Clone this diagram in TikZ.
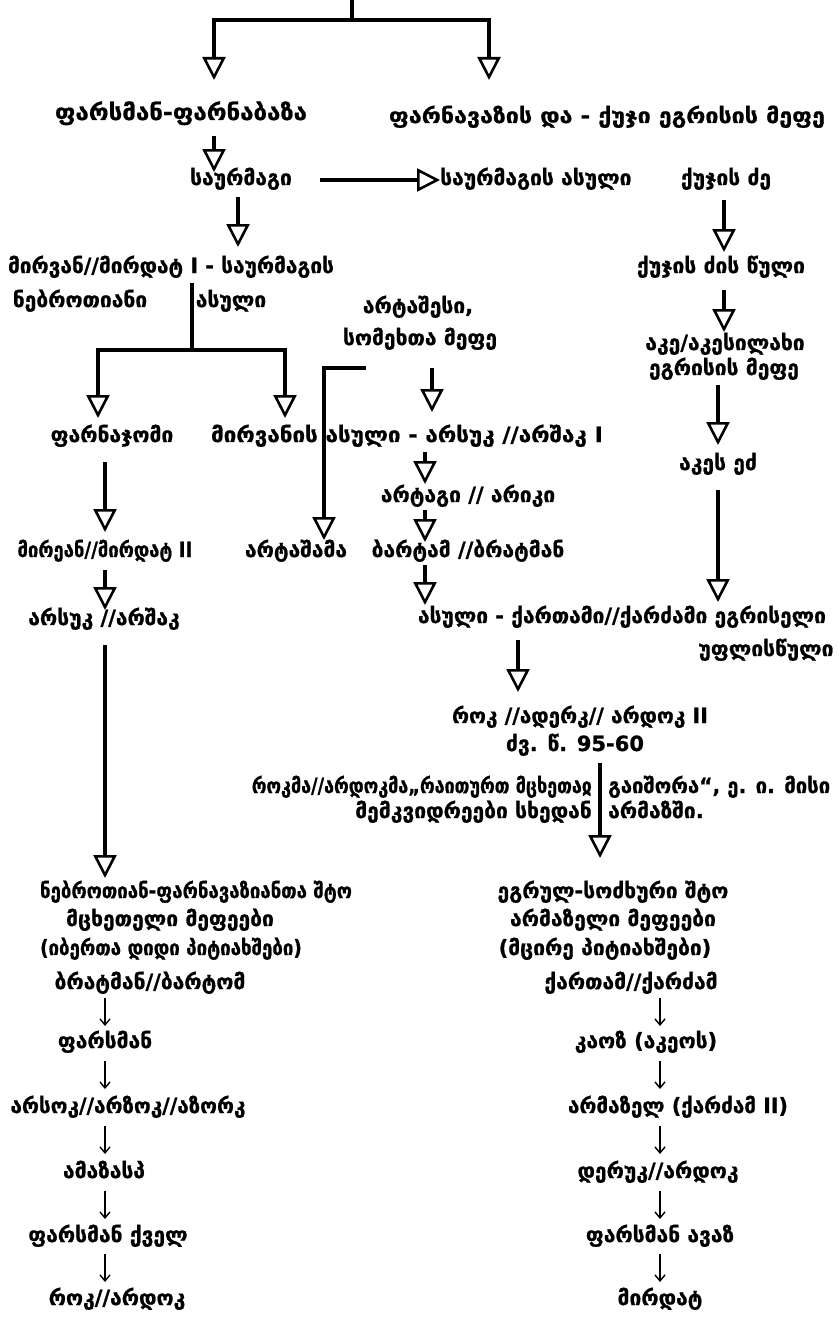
\documentclass[tikz,border=0pt]{standalone}
\usepackage{fontspec}
\usepackage{graphicx}
\setmainfont{DejaVu Sans}[BoldFeatures={FakeBold=0.8}]
\usetikzlibrary{arrows.meta}
\newcommand\fw[2]{\resizebox{#1pt}{\height}{#2}}
\tikzset{
  lbl/.style={font=\bfseries\fontsize{21}{23}\selectfont, inner sep=0pt, text height=15pt, text depth=5pt},
  big/.style={font=\bfseries\fontsize{22.5}{25}\selectfont},
  ln/.style={line width=3.1pt, line join=miter},
  arr/.style={line width=3.1pt, line join=miter, -{Triangle[open,length=23pt,width=23pt,line width=2.6pt]}},
  tarr/.style={line width=1.4pt, -{Straight Barb[length=6pt,width=10pt,line width=1.4pt]}}
}
\begin{document}
\begin{tikzpicture}[x=1pt,y=-1pt]
\fill[white] (0,0) rectangle (838,1319);
\useasboundingbox (0,0) rectangle (838,1319);

% ---- nodes ----
\node[lbl,big] (fars) at (181,115) {\fw{252}{ფარსმან-ფარნაბაზა}};
\node[lbl] (farn) at (607,118) {\fw{436}{ფარნავაზის და - ქუჯი ეგრისის მეფე}};
\node[lbl] (saur) at (241,180) {საურმაგი};
\node[lbl,anchor=west] (saurA) at (440,180) {საურმაგის ასული};
\node[lbl] (kuj) at (726,180) {ქუჯის ძე};
\node[lbl] (mirv) at (171,268) {\fw{326}{მირვან//მირდატ I - საურმაგის}};
\node[lbl] (kujdz) at (721,268) {ქუჯის ძის წული};
\node[lbl] (nebr) at (80,302) {ნებროთიანი};
\node[lbl] (asuli) at (231,302) {ასული};
\node[lbl] (artash) at (418,308) {არტაშესი,};
\node[lbl] (somekh) at (420,340) {სომეხთა მეფე};
\node[lbl] (ake) at (725,345) {აკე/აკესილახი};
\node[lbl] (egr) at (724,370) {ეგრისის მეფე};
\node[lbl] (farnaj) at (112,437) {ფარნაჯომი};
\node[lbl] (mirvA) at (407,437) {\fw{392}{მირვანის ასული - არსუკ //არშაკ I}};
\node[lbl] (akes) at (718,465) {აკეს ეძ};
\node[lbl] (artag) at (468,497) {არტაგი // არიკი};
\node[lbl] (mire) at (105,552) {\fw{175}{მირეან//მირდატ II}};
\node[lbl] (artsham) at (296,552) {არტაშამა};
\node[lbl] (bart) at (468,552) {ბარტამ //ბრატმან};
\node[lbl] (arsuk) at (104,620) {არსუკ //არშაკ};
\node[lbl] (asuliK) at (622,618) {\fw{408}{ასული - ქართამი//ქარძამი ეგრისელი}};
\node[lbl] (ufl) at (766,651) {უფლისწული};
\node[lbl] (rok) at (580,718) {\fw{256}{როკ //ადერკ// არდოკ II}};
\node[lbl] (dzv) at (575,746) {ძვ. წ. 95-60};
\node[lbl,anchor=east] (q1) at (592,788) {\fw{340}{როკმა//არდოკმა„რაითურთ მცხეთაჲ}};
\node[lbl,anchor=east] (q2) at (592,813) {მემკვიდრეები სხედან};
\node[lbl,anchor=west] (q3) at (608,788) {\fw{222}{გაიშორა“, ე. ი. მისი}};
\node[lbl,anchor=west] (q4) at (608,813) {არმაზში.};

% left block
\node[lbl] (L1) at (196,893) {\fw{312}{ნებროთიან-ფარნავაზიანთა შტო}};
\node[lbl] (L2) at (170,921) {მცხეთელი მეფეები};
\node[lbl] (L3) at (171,950) {\fw{262}{(იბერთა დიდი პიტიახშები)}};
\node[lbl] (L4) at (150,984) {ბრატმან//ბარტომ};
\node[lbl] (L5) at (105,1043) {ფარსმან};
\node[lbl] (L6) at (128,1108) {\fw{235}{არსოკ//არზოკ//აზორკ}};
\node[lbl] (L7) at (104,1173) {ამაზასპ};
\node[lbl] (L8) at (108,1237) {ფარსმან ქველ};
\node[lbl] (L9) at (117,1300) {როკ//არდოკ};

% right block
\node[lbl] (R1) at (613,893) {ეგრულ-სოძხური შტო};
\node[lbl] (R2) at (613,921) {არმაზელი მეფეები};
\node[lbl] (R3) at (605,950) {(მცირე პიტიახშები)};
\node[lbl] (R4) at (631,984) {ქართამ//ქარძამ};
\node[lbl] (R5) at (646,1043) {კაოზ (აკეოს)};
\node[lbl] (R6) at (678,1108) {\fw{220}{არმაზელ (ქარძამ II)}};
\node[lbl] (R7) at (658,1173) {დერუკ//არდოკ};
\node[lbl] (R8) at (660,1237) {ფარსმან ავაზ};
\node[lbl] (R9) at (660,1300) {მირდატ};

% ---- connectors ----
\coordinate (root) at (352,0);
\coordinate (rj) at (352,20);
\draw[ln] (root) -- (rj);
\draw[arr] (rj) -| (214,80);
\draw[arr] (rj) -| (489,80);
\draw[arr] (214,136) -- (214,172);
\draw[arr] (320,180) -- (saurA.west);
\draw[arr] (238,197) -- (238,247);
\draw[arr] (724,200) -- (724,252);
\coordinate (mj) at (192,350);
\draw[ln] (192,283) -- (mj);
\draw[arr] (mj) -| (98,418);
\draw[arr] (mj) -| (285,418);
\draw[arr] (724,290) -- (724,332);
\draw[arr] (366,368) -| (324,540);
\draw[arr] (432,368) -- (432,412);
\draw[arr] (718,385) -- (718,445);
\draw[arr] (105,462) -- (105,532);
\draw[arr] (425,452) -- (425,484);
\draw[arr] (425,510) -- (425,542);
\draw[arr] (718,490) -- (718,602);
\draw[arr] (105,570) -- (105,610);
\draw[arr] (425,565) -- (425,605);
\draw[arr] (518,640) -- (518,692);
\draw[arr] (105,645) -- (105,878);
\draw[arr] (600,763) -- (600,858);

% thin arrows
\foreach \y in {1012,1075,1140,1205,1268} {
  \draw[tarr] (105,\y-14) -- (105,\y+14);
  \draw[tarr] (660,\y-14) -- (660,\y+14);
}
\end{tikzpicture}
\end{document}
